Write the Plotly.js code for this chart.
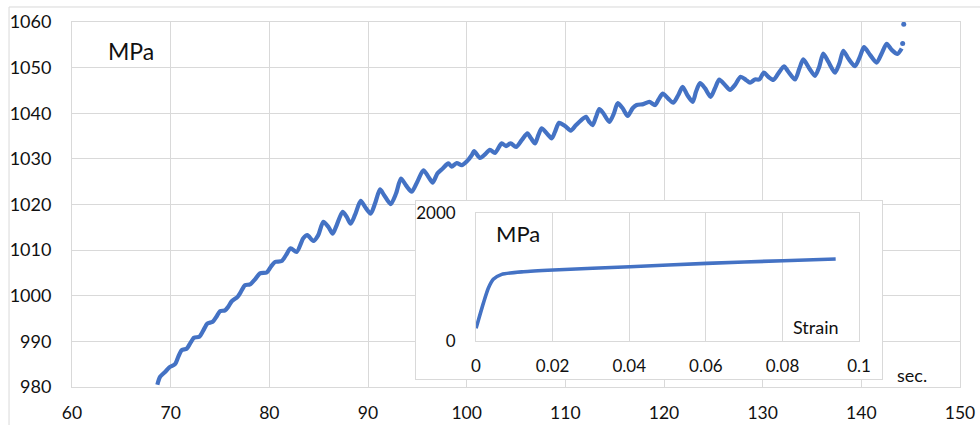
<!DOCTYPE html>
<html>
<head>
<meta charset="utf-8">
<script src="https://cdn.plot.ly/plotly-3.0.1.min.js"></script>
<style>html,body{margin:0;padding:0;background:#fff;}#chart{width:980px;height:425px;}</style>
</head>
<body>
<div id="chart"></div>
<script>
// Main series: stress (MPa) vs time (sec.)
const timeSec = [68.65,68.92,69.43,69.93,70.44,70.77,71.12,71.62,71.96,72.36,72.90,73.31,73.71,74.26,74.67,75.00,75.51,75.84,76.19,76.76,77.10,77.53,78.04,78.55,79.05,79.73,80.14,80.57,81.25,81.69,82.16,82.77,83.44,83.85,84.46,84.96,85.47,85.98,86.42,86.83,87.43,87.84,88.24,88.68,89.26,89.69,90.27,90.71,91.22,91.62,92.30,92.84,93.34,93.85,94.43,95.00,95.61,96.11,96.56,97.03,97.57,98.14,98.48,98.99,99.50,100.00,100.51,100.75,101.35,101.86,102.36,102.87,103.55,103.99,104.46,105.00,105.58,106.15,106.52,106.93,107.26,107.60,108.11,108.62,108.95,109.36,109.97,110.54,111.08,111.56,112.09,112.43,112.77,113.11,113.44,113.85,114.46,114.93,115.30,115.81,116.32,116.82,117.23,117.90,118.51,119.09,119.42,119.87,120.43,120.94,121.45,121.89,122.36,122.91,123.24,123.65,124.15,124.73,125.17,125.60,126.18,126.69,127.20,127.77,128.31,128.72,129.22,129.66,130.13,130.57,131.08,131.58,132.16,132.60,133.28,133.72,134.12,134.73,135.30,135.74,136.14,136.65,137.33,137.77,138.17,138.68,139.36,139.86,140.27,140.88,141.55,142.06,142.57,143.07,143.65,144.09];
const stressMPa = [980.5,982.2,983.3,984.4,985.0,986.6,988.1,988.4,989.5,990.8,991.0,992.4,993.9,994.3,995.5,996.6,996.8,997.6,998.8,999.7,1000.8,1002.3,1002.5,1003.6,1004.9,1005.1,1006.3,1007.4,1007.6,1008.9,1010.4,1009.6,1012.6,1013.3,1012.0,1013.3,1016.2,1015.1,1013.6,1015.5,1018.4,1017.3,1015.8,1017.7,1020.8,1019.5,1018.0,1020.2,1023.3,1022.1,1020.1,1022.4,1025.7,1024.2,1022.8,1025.0,1027.5,1026.1,1024.8,1026.8,1027.9,1029.0,1028.3,1029.1,1028.6,1029.4,1030.8,1031.7,1030.2,1031.0,1032.0,1031.3,1033.4,1032.8,1033.4,1032.6,1034.1,1035.6,1034.5,1033.4,1035.2,1036.7,1035.6,1034.5,1035.9,1037.9,1037.2,1036.2,1037.4,1038.4,1039.2,1038.1,1037.4,1039.2,1040.9,1040.0,1038.1,1040.0,1042.2,1041.1,1039.4,1041.1,1041.8,1042.0,1042.5,1041.8,1042.9,1044.3,1043.2,1042.3,1044.0,1045.8,1044.0,1042.5,1044.7,1046.6,1045.5,1043.6,1045.5,1047.4,1046.2,1045.1,1046.2,1048.0,1047.3,1046.7,1047.4,1047.4,1048.9,1048.0,1047.3,1048.7,1050.3,1049.1,1047.4,1049.8,1051.8,1049.8,1048.2,1050.2,1053.1,1051.3,1048.9,1050.9,1053.7,1052.0,1050.3,1052.4,1054.5,1052.8,1051.1,1053.1,1055.2,1053.9,1053.0,1054.2];
// Isolated last samples
const endTime = [144.19, 144.3];
const endStress = [1055.3, 1059.5];
// Inset: stress vs strain
const strain = [0, 0.0019, 0.0032, 0.0045, 0.0067, 0.0124, 0.0202, 0.0402, 0.0602, 0.0802, 0.0939];
const strainStress = [194, 584, 819, 959, 1037, 1078, 1105, 1156, 1209, 1250, 1277];
// Tick labels
const mainXTicks = [60,70,80,90,100,110,120,130,140,150];
const mainYTicks = [980,990,1000,1010,1020,1030,1040,1050,1060];
const insetXTicks = [0,0.02,0.04,0.06,0.08,0.1];
const insetYTicks = [0,2000];

const BLUE = '#4472C4';
const GRID = '#d9d9d9';
const FONT = 'Lato, "Open Sans", sans-serif';
const TXT = '#111111';

const traces = [
  {x: timeSec, y: stressMPa, xaxis:'x', yaxis:'y', mode:'lines', line:{color:BLUE, width:4.2, shape:'spline', smoothing:0.7}, hoverinfo:'x+y', showlegend:false},
  {x: endTime, y: endStress, xaxis:'x', yaxis:'y', mode:'markers', marker:{color:BLUE, size:5}, showlegend:false},
  {x: [], y: [], xaxis:'x2', yaxis:'y2', mode:'markers', hoverinfo:'skip', showlegend:false},
  {x: strain, y: strainStress, xaxis:'x3', yaxis:'y3', mode:'lines', line:{color:BLUE, width:3.6, shape:'spline', smoothing:0.6}, showlegend:false}
];

const layout = {
  width: 980, height: 425,
  margin: {l:72, r:20, t:22, b:38, pad:0},
  paper_bgcolor:'#fff', plot_bgcolor:'#fff',
  font: {family: FONT, color: TXT, size: 18},
  showlegend: false,
  xaxis: {domain:[0,1], range:[60,150], tickvals: mainXTicks, showgrid:true, gridcolor:GRID, gridwidth:1,
          showline:true, mirror:true, linecolor:GRID, zeroline:false, ticks:'', ticklabelstandoff:10,
          tickfont:{size:17.5, family:FONT, color:TXT}, fixedrange:true},
  yaxis: {domain:[0,1], range:[980,1060], tickvals: mainYTicks, showgrid:true, gridcolor:GRID, gridwidth:1,
          showline:true, mirror:true, linecolor:GRID, zeroline:false, ticks:'', ticklabelstandoff:16,
          tickfont:{size:18, family:FONT, color:TXT}, fixedrange:true},
  xaxis2: {domain:[0.3874,0.9122], anchor:'y2', range:[0,1], showgrid:false, zeroline:false, showticklabels:false,
           showline:true, mirror:true, linecolor:GRID, ticks:'', fixedrange:true},
  yaxis2: {domain:[0.0219,0.5104], anchor:'x2', range:[0,1], showgrid:false, zeroline:false, showticklabels:false,
           showline:true, mirror:true, linecolor:GRID, ticks:'', fixedrange:true},
  xaxis3: {domain:[0.4550,0.8863], anchor:'y3', range:[0,0.1], tickvals: insetXTicks, ticktext: insetXTicks.map(String),
           showgrid:true, gridcolor:GRID, showline:true, mirror:true, linecolor:GRID, zeroline:false, ticks:'',
           ticklabelstandoff:10, tickfont:{size:17, family:FONT, color:TXT}, fixedrange:true},
  yaxis3: {domain:[0.1268,0.4775], anchor:'x3', range:[0,2000], tickvals: insetYTicks,
           showgrid:true, gridcolor:GRID, showline:true, mirror:true, linecolor:GRID, zeroline:false, ticks:'',
           ticklabelstandoff:16, tickfont:{size:17, family:FONT, color:TXT}, fixedrange:true},
  shapes: [
    {type:'rect', xref:'paper', yref:'paper', x0:-0.0709, x1:1.04, y0:-0.14, y1:1.0411,
     line:{color:GRID, width:1}, fillcolor:'rgba(0,0,0,0)', layer:'below'}
  ],
  annotations: [
    {xref:'paper', yref:'paper', x:0.0383, y:0.9205, xanchor:'left', yanchor:'middle', text:'MPa', showarrow:false, font:{size:23, family:FONT, color:TXT}},
    {xref:'paper', yref:'paper', x:0.9459, y:0.0329, xanchor:'center', yanchor:'middle', text:'sec.', showarrow:false, font:{size:18, family:FONT, color:TXT}},
    {xref:'paper', yref:'paper', x:0.4752, y:0.4205, xanchor:'left', yanchor:'middle', text:'MPa', showarrow:false, font:{size:22, family:FONT, color:TXT}},
    {xref:'paper', yref:'paper', x:0.8378, y:0.1644, xanchor:'center', yanchor:'middle', text:'Strain', showarrow:false, font:{size:18, family:FONT, color:TXT}}
  ]
};

Plotly.newPlot('chart', traces, layout, {displayModeBar:false, staticPlot:true});
</script>
</body>
</html>
